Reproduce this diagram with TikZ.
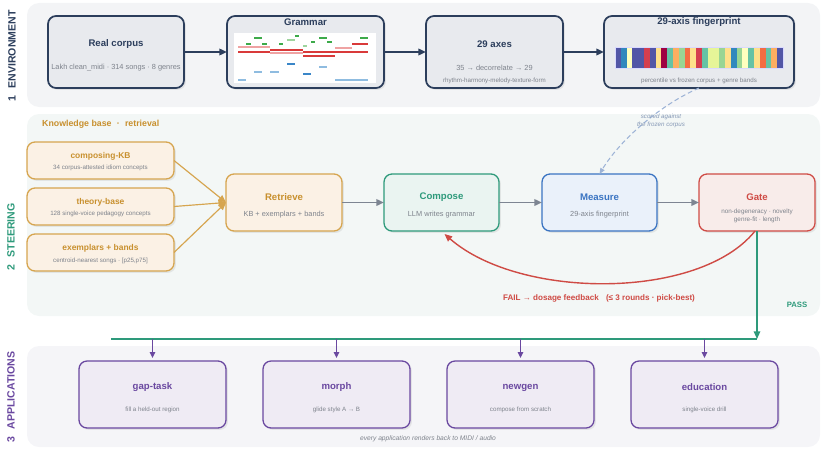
\documentclass[tikz,border=0pt]{standalone}
\usepackage{fontspec}
\setmainfont{Liberation Sans}
\usepackage{tikz}
\usetikzlibrary{arrows.meta, positioning, calc, shadows}

\definecolor{navy}{HTML}{2C3E5C}
\definecolor{envfill}{HTML}{E8EAEE}
\definecolor{envband}{HTML}{F3F4F6}
\definecolor{steerband}{HTML}{F3F7F6}
\definecolor{appband}{HTML}{F5F5F8}
\definecolor{subgray}{HTML}{7E838C}
\definecolor{kbgold}{HTML}{D6A54F}
\definecolor{kbtext}{HTML}{C8902E}
\definecolor{kbfill}{HTML}{FBF1E5}
\definecolor{compgreen}{HTML}{2E9A7B}
\definecolor{compfill}{HTML}{EAF4F1}
\definecolor{measblue}{HTML}{3A74C2}
\definecolor{measfill}{HTML}{EAF1FA}
\definecolor{gatered}{HTML}{CF4B45}
\definecolor{gatefill}{HTML}{F8ECEA}
\definecolor{apppurple}{HTML}{6A48A0}
\definecolor{appfill}{HTML}{EFEBF4}
\definecolor{arrowgray}{HTML}{7D8592}
\definecolor{dashblue}{HTML}{9DB3D6}
% spectral palette for the fingerprint bar
\definecolor{spA}{HTML}{9E0142}
\definecolor{spB}{HTML}{D53E4F}
\definecolor{spC}{HTML}{F46D43}
\definecolor{spD}{HTML}{FDAE61}
\definecolor{spE}{HTML}{FEE08B}
\definecolor{spF}{HTML}{FFFFBF}
\definecolor{spG}{HTML}{E6F598}
\definecolor{spH}{HTML}{99D594}
\definecolor{spI}{HTML}{66C2A5}
\definecolor{spJ}{HTML}{3288BD}
\definecolor{spK}{HTML}{5256A6}
% piano roll colours
\definecolor{gd}{HTML}{3DAA4A}
\definecolor{gl}{HTML}{9ED49E}
\definecolor{rd}{HTML}{D93A3A}
\definecolor{rl}{HTML}{EFA3A3}
\definecolor{bd}{HTML}{3A86C8}
\definecolor{bl}{HTML}{8FBCE0}

\newcommand{\pxl}{0.03cm}

\tikzset{
	panel/.style={rounded corners=0.24cm, line width=1.1pt, inner sep=0pt, outer sep=0pt,
		drop shadow={opacity=0.15, shadow xshift=1.6pt, shadow yshift=-1.6pt}},
	wh/.style 2 args={minimum width=#1*\pxl, minimum height=#2*\pxl},
	envbox/.style={panel, draw=navy, fill=envfill, line width=1.5pt},
	kbbox/.style={panel, draw=kbgold, fill=kbfill},
	compbox/.style={panel, draw=compgreen, fill=compfill},
	measbox/.style={panel, draw=measblue, fill=measfill},
	gatebox/.style={panel, draw=gatered, fill=gatefill},
	appbox/.style={panel, draw=apppurple, fill=appfill},
	ttl/.style={font=\bfseries\fontsize{8.2}{9.8}\selectfont, inner sep=0pt},
	subtxt/.style={font=\fontsize{6.3}{7.5}\selectfont, text=subgray, inner sep=0pt},
	smalltxt/.style={font=\fontsize{5.3}{6.4}\selectfont, text=subgray, inner sep=0pt, align=center},
	sidelbl/.style={font=\bfseries\fontsize{9}{10}\selectfont, rotate=90, inner sep=0pt},
	line/.style={draw, -{Triangle[length=6.5pt, width=5.5pt]}}
}

\begin{document}
\begin{tikzpicture}[
    x=0.03cm, y=-0.03cm,
    % connectors
    envarrow/.style={line, navy, line width=1.6pt},
    kbarrow/.style={line, kbgold, line width=1pt},
    steerarrow/.style={line, arrowgray, line width=1.6pt},
    failarrow/.style={line, gatered, line width=1.2pt},
    passline/.style={line, compgreen, line width=1.3pt},
    apparrow/.style={draw, apppurple, line width=1.1pt, -{Triangle[length=5pt, width=4.5pt]}, shorten >=2.5pt}
]
\useasboundingbox (0,0) rectangle (824,451);

% --- BANDS ---
\fill[envband, rounded corners=0.36cm] (27,3) rectangle (820,107);
\fill[steerband, rounded corners=0.36cm] (27,114) rectangle (820,316);
\fill[appband, rounded corners=0.36cm] (27,346) rectangle (820,447);

\node[sidelbl, text=navy] (lbl-env) at (12,56) {1\hspace{0.7em}ENVIRONMENT};
\node[sidelbl, text=compgreen] (lbl-steer) at (11,237) {2\hspace{0.7em}STEERING};
\node[sidelbl, text=apppurple] (lbl-app) at (11,397) {3\hspace{0.7em}APPLICATIONS};

% --- 1: ENVIRONMENT ---
\node[envbox, wh={136}{72}] (corpus) at (116,52) {};
\node[envbox, wh={157}{72}] (grammar) at (305.5,52) {};
\node[envbox, wh={137}{72}] (axes) at (494.5,52) {};
\node[envbox, wh={190}{72}] (fprint) at (699,52) {};

\node[ttl, text=navy] (corpus-t) at (116,44) {Real corpus};
\node[subtxt] (corpus-s) at (116,68) {Lakh clean\_midi · 314 songs · 8 genres};

\node[ttl, text=navy] (grammar-t) at (305.5,22) {Grammar};
% piano roll of the grammar
\fill[white] (234,33) rectangle (376,83);
\foreach \xa/\xb/\yy/\cc/\lw in {
    254/262/38/gd/0.9, 295/299/36/gd/0.9, 287/295/40/gl/1.6, 319/327/38/gd/0.9,
    360/368/38/gd/0.9, 246/251/44/gd/0.9, 262/267/44/gd/0.9, 279/283/44/gd/0.9,
    311/315/42/gd/0.9, 327/332/42/gd/0.9, 303/307/46/gl/1.6,
    238/270/47/rl/1.6, 238/270/52/rd/0.9, 270/303/50/rd/0.9, 270/303/53/rl/1.6,
    303/335/52/rd/0.9, 303/335/56/rd/0.9, 335/352/48/rl/1.6, 352/368/44/rd/0.9,
    335/368/52/rd/0.9,
    287/295/64/bd/0.9, 319/327/67/bl/1.6, 254/262/72/bl/1.3, 270/279/72/bl/1.3,
    303/311/74/bd/1.3, 238/246/80/bl/1.3, 335/368/80/bl/1.3}
  \draw[\cc, line width=\lw pt] (\xa,\yy) -- (\xb,\yy);

\node[ttl, text=navy] (axes-t) at (494.5,44) {29 axes};
\node[subtxt] (axes-s) at (494.5,68) {35 → decorrelate → 29};
\node[smalltxt] (axes-d) at (494.5,81) {rhythm-harmony-melody-texture-form};

\node[ttl, text=navy] (fprint-t) at (699,22) {29-axis fingerprint};
\foreach \c [count=\i from 0] in {spK,spJ,spF,spK,spK,spB,spK,spE,spA,spI,spD,spH,spC,spE,spB,
    spI,spG,spG,spH,spE,spJ,spH,spF,spI,spE,spC,spI,spD,spK}
  \fill[\c] ({615+\i*5.793},47) rectangle ++(5.793,21);
\draw[blue!15, line width=0.6pt] (615,47) rectangle (783,68);
\node[smalltxt] (fprint-s) at (699,81) {percentile vs frozen corpus + genre bands};

\draw[envarrow] (corpus) -- (grammar);
\draw[envarrow] (grammar) -- (axes);
\draw[envarrow] (axes) -- (fprint);

% --- 2: STEERING ---
\node[font=\bfseries\fontsize{7.5}{9}\selectfont, text=kbtext, anchor=west, inner sep=0pt]
    (kb-lbl) at (42,124) {Knowledge base\hspace{0.6em}·\hspace{0.6em}retrieval};

\node[kbbox, wh={147}{37}] (ckb) at (100.5,160.5) {};
\node[kbbox, wh={147}{37}] (tbase) at (100.5,206.5) {};
\node[kbbox, wh={147}{37}] (exemp) at (100.5,252.5) {};
\node[ttl, text=kbtext, font=\bfseries\fontsize{7.2}{8.6}\selectfont] (ckb-t) at (100.5,156) {composing-KB};
\node[smalltxt] (ckb-s) at (100.5,168) {34 corpus-attested idiom concepts};
\node[ttl, text=kbtext, font=\bfseries\fontsize{7.2}{8.6}\selectfont] (tbase-t) at (100.5,202) {theory-base};
\node[smalltxt] (tbase-s) at (100.5,214) {128 single-voice pedagogy concepts};
\node[ttl, text=kbtext, font=\bfseries\fontsize{7.2}{8.6}\selectfont] (exemp-t) at (100.5,248) {exemplars + bands};
\node[smalltxt] (exemp-s) at (100.5,261) {centroid-nearest songs · [p25,p75]};

\node[kbbox, wh={116}{57}] (retrieve) at (284,202.5) {};
\node[compbox, wh={115}{57}] (compose) at (441.5,202.5) {};
\node[measbox, wh={115}{57}] (measure) at (599.5,202.5) {};
\node[gatebox, wh={116}{57}] (gate) at (757,202.5) {};

\node[ttl, text=kbtext] (retrieve-t) at (284,197) {Retrieve};
\node[subtxt] (retrieve-s) at (284,215) {KB + exemplars + bands};
\node[ttl, text=compgreen] (compose-t) at (441.5,197) {Compose};
\node[subtxt] (compose-s) at (441.5,215) {LLM writes grammar};
\node[ttl, text=measblue] (measure-t) at (599.5,197) {Measure};
\node[subtxt] (measure-s) at (599.5,215) {29-axis fingerprint};
\node[ttl, text=gatered] (gate-t) at (757,197) {Gate};
\node[smalltxt, font=\fontsize{5.4}{6.6}\selectfont] (gate-s) at (757,216) {non-degeneracy · novelty\\genre-fit · length};

\draw[kbarrow] (ckb.east) -- (retrieve.west);
\draw[kbarrow] (tbase.east) -- (retrieve.west);
\draw[kbarrow] (exemp.east) -- (retrieve.west);

\draw[steerarrow] (retrieve) -- (compose);
\draw[steerarrow] (compose) -- (measure);
\draw[steerarrow] (measure) -- (gate);

% scored against the frozen corpus
\draw[dashblue, line width=0.9pt, dash pattern=on 4pt off 2.5pt, -{Triangle[length=5pt, width=4pt]}]
    (fprint.south) .. controls (660,105) and (620,140) .. (measure.north);
\node[font=\itshape\fontsize{5.3}{6.3}\selectfont, text=dashblue!85!black, align=center, inner sep=0pt]
    (scored) at (661,121) {scored against\\the frozen corpus};

% fail loop back to compose
\draw[failarrow] ($(gate.south)+(-2,0)$) .. controls (700,300) and (520,300) .. ($(compose.south)+(3,3)$);
\node[font=\bfseries\fontsize{6.9}{8}\selectfont, text=gatered, inner sep=0pt]
    (fail-lbl) at (599,298) {FAIL → dosage feedback\hspace{0.9em}(≤ 3 rounds · pick-best)};

% pass down to the applications
\coordinate (busR) at (757,339);
\coordinate (busL) at (111,339);
\draw[passline] (gate.south) -- (busR);
\draw[compgreen, line width=1.3pt] (busL) -- (busR);
\node[font=\bfseries\fontsize{6.6}{8}\selectfont, text=compgreen, inner sep=0pt] (pass-lbl) at (797,305) {PASS};

% --- 3: APPLICATIONS ---
\node[appbox, wh={147}{67}] (gaptask) at (152.5,394.5) {};
\node[appbox, wh={147}{67}] (morph) at (336.5,394.5) {};
\node[appbox, wh={147}{67}] (newgen) at (520.5,394.5) {};
\node[appbox, wh={147}{67}] (educ) at (704.5,394.5) {};

\foreach \n/\t/\s in {gaptask/gap-task/fill a held-out region, morph/morph/glide style A → B,
    newgen/newgen/compose from scratch, educ/education/single-voice drill} {
  \node[ttl, text=apppurple] (\n-t) at ($(\n.center)+(0,-7)$) {\t};
  \node[smalltxt] (\n-s) at ($(\n.center)+(0,15.5)$) {\s};
  \draw[apparrow] (\n.north |- busL) -- (\n.north);
}

\node[font=\itshape\fontsize{5.7}{6.8}\selectfont, text=subgray, inner sep=0pt]
    (footer) at (428,439) {every application renders back to MIDI / audio};

\end{tikzpicture}
\end{document}
